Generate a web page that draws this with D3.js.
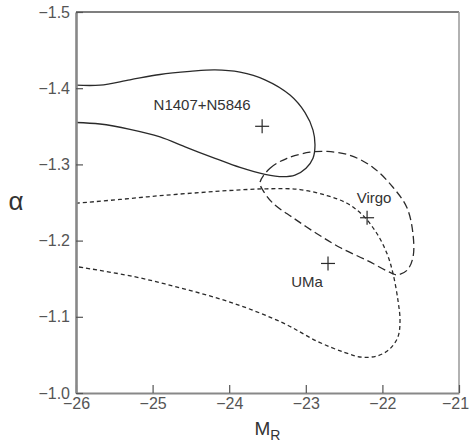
<!DOCTYPE html>
<html>
<head>
<meta charset="utf-8">
<script src="https://cdn.jsdelivr.net/npm/d3@7"></script>
<style>
  body { margin: 0; background: #fff; }
  svg { display: block; font-family: "Liberation Sans", Arial, sans-serif; }
</style>
</head>
<body>
<div id="chart"></div>
<script>
// contour for N1407+N5846 (open, runs off the left edge)
const groupContour = [
  [-26, -1.404], [-25.687, -1.404], [-25.295, -1.411], [-24.903, -1.418],
  [-24.512, -1.422], [-24.185, -1.424], [-23.859, -1.421], [-23.533, -1.411],
  [-23.206, -1.391], [-23.01, -1.368], [-22.906, -1.345], [-22.88, -1.325],
  [-22.906, -1.308], [-22.997, -1.295], [-23.141, -1.286], [-23.298, -1.284],
  [-23.533, -1.287], [-23.859, -1.296], [-24.185, -1.308], [-24.551, -1.322],
  [-24.903, -1.336], [-25.295, -1.346], [-25.687, -1.353], [-26, -1.355]
]
// Virgo contour (closed)
const virgoContour = [
  [-23.598, -1.276], [-23.467, -1.295], [-23.245, -1.308], [-22.945, -1.316],
  [-22.723, -1.317], [-22.423, -1.312], [-22.123, -1.296], [-21.862, -1.27],
  [-21.679, -1.243], [-21.601, -1.209], [-21.601, -1.178], [-21.679, -1.161],
  [-21.809, -1.155], [-21.875, -1.157], [-22.201, -1.174], [-22.554, -1.191],
  [-22.854, -1.209], [-23.167, -1.23], [-23.428, -1.249], [-23.559, -1.266]
]
// UMa contour (open, runs off the left edge)
const umaContour = [
  [-26, -1.249], [-25.426, -1.254], [-24.903, -1.259], [-24.381, -1.263],
  [-23.95, -1.266], [-23.507, -1.268], [-23.076, -1.267], [-22.723, -1.259],
  [-22.462, -1.249], [-22.253, -1.233], [-22.07, -1.209], [-21.94, -1.183],
  [-21.862, -1.157], [-21.796, -1.121], [-21.77, -1.095], [-21.796, -1.074],
  [-21.901, -1.058], [-22.057, -1.049], [-22.266, -1.047], [-22.488, -1.053],
  [-22.854, -1.068], [-23.298, -1.092], [-23.95, -1.118], [-24.603, -1.137],
  [-25.256, -1.153], [-26, -1.166]
]
const centres = [
  { name: "N1407+N5846", x: -23.57, y: -1.35 },
  { name: "Virgo", x: -22.2, y: -1.23 },
  { name: "UMa", x: -22.71, y: -1.17 }
]
const xTicks = [-26, -25, -24, -23, -22, -21]
const yTicks = [-1.5, -1.4, -1.3, -1.2, -1.1, -1.0]

const width = 471, height = 447
const margin = { top: 12, right: 12, bottom: 54, left: 76 }
const innerW = width - margin.left - margin.right
const innerH = height - margin.top - margin.bottom

const svg = d3.select("#chart").append("svg")
  .attr("width", width)
  .attr("height", height)

const x = d3.scaleLinear().domain([-26, -21]).range([margin.left, margin.left + innerW])
const y = d3.scaleLinear().domain([-1.5, -1.0]).range([margin.top, margin.top + innerH])

svg.append("clipPath").attr("id", "plot")
  .append("rect")
  .attr("x", margin.left).attr("y", margin.top)
  .attr("width", innerW).attr("height", innerH)

const open = d3.line().x(d => x(d[0])).y(d => y(d[1])).curve(d3.curveCatmullRom)
const closed = d3.line().x(d => x(d[0])).y(d => y(d[1])).curve(d3.curveCatmullRomClosed)

const curves = svg.append("g")
  .attr("clip-path", "url(#plot)")
  .attr("fill", "none")
  .attr("stroke", "#2a2a2a")
  .attr("stroke-width", 1.3)

curves.append("path").attr("d", open(groupContour))
curves.append("path").attr("d", closed(virgoContour)).attr("stroke-dasharray", "8,4")
curves.append("path").attr("d", open(umaContour)).attr("stroke-dasharray", "4,3")

// frame
svg.append("line")
  .attr("x1", margin.left).attr("x2", margin.left + innerW)
  .attr("y1", margin.top).attr("y2", margin.top)
  .attr("stroke", "#555").attr("stroke-width", 1.5)
svg.append("line")
  .attr("x1", margin.left + innerW).attr("x2", margin.left + innerW)
  .attr("y1", margin.top).attr("y2", margin.top + innerH)
  .attr("stroke", "#999").attr("stroke-width", 1.5)

const xAxis = svg.append("g")
  .attr("transform", `translate(0,${margin.top + innerH})`)
  .call(d3.axisBottom(x).tickValues(xTicks).tickSizeInner(-8).tickSizeOuter(0)
    .tickFormat(d3.format("d")))
const yAxis = svg.append("g")
  .attr("transform", `translate(${margin.left},0)`)
  .call(d3.axisLeft(y).tickValues(yTicks).tickSizeInner(-7).tickSizeOuter(0)
    .tickFormat(d3.format(".1f")))

xAxis.select(".domain").attr("stroke", "#888").attr("stroke-width", 2.2)
yAxis.select(".domain").attr("stroke", "#888").attr("stroke-width", 2.6)
svg.selectAll(".tick line").attr("stroke", "#555").attr("stroke-width", 1.2)
svg.selectAll(".tick text").attr("fill", "#555").style("font-size", "16px")
xAxis.selectAll(".tick text").attr("y", 5).attr("dy", "0.71em")
  .attr("dx", d => d === -21 ? -4 : 0)
yAxis.selectAll(".tick text").attr("x", -6)

// centre markers
const cross = 7
const marks = svg.append("g").attr("stroke", "#2a2a2a").attr("stroke-width", 1.2)
marks.selectAll(".h").data(centres).join("line")
  .attr("x1", d => x(d.x) - cross).attr("x2", d => x(d.x) + cross)
  .attr("y1", d => y(d.y)).attr("y2", d => y(d.y))
marks.selectAll(".v").data(centres).join("line")
  .attr("x1", d => x(d.x)).attr("x2", d => x(d.x))
  .attr("y1", d => y(d.y) - cross).attr("y2", d => y(d.y) + cross)

const labelPos = {
  "N1407+N5846": [-60, -16],
  "Virgo": [7, -15],
  "UMa": [-21, 24]
}
svg.append("g").selectAll("text").data(centres).join("text")
  .attr("x", d => x(d.x) + labelPos[d.name][0])
  .attr("y", d => y(d.y) + labelPos[d.name][1])
  .attr("text-anchor", "middle")
  .attr("fill", "#333")
  .style("font-size", "15px")
  .text(d => d.name)

// axis titles
const xt = svg.append("text")
  .attr("x", margin.left + innerW / 2)
  .attr("y", 435)
  .attr("text-anchor", "middle")
  .attr("fill", "#333")
  .style("font-size", "19px")
xt.append("tspan").text("M")
xt.append("tspan").attr("dy", 5).style("font-size", "14px").text("R")

svg.append("text")
  .attr("x", 16)
  .attr("y", margin.top + innerH / 2 + 7)
  .attr("text-anchor", "middle")
  .attr("fill", "#333")
  .style("font-size", "26px")
  .text("α")
</script>
</body>
</html>
